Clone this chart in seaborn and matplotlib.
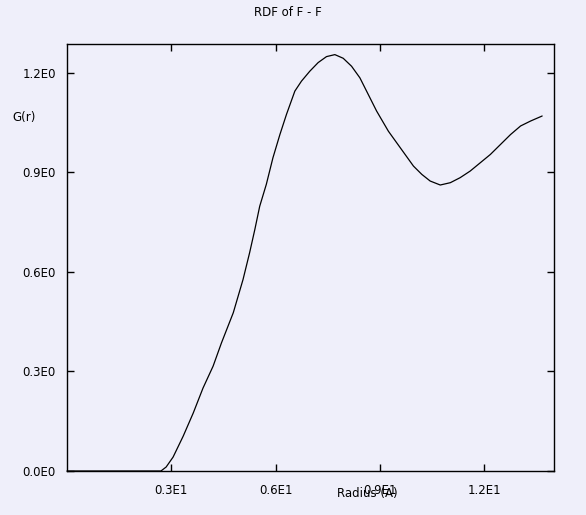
import matplotlib
matplotlib.use("Agg")
import matplotlib.pyplot as plt
import seaborn as sns
import pandas as pd

radius = [0.0, 2.70, 2.85, 3.05, 3.34, 3.63, 3.91, 4.20, 4.44, 4.78, 5.06, 5.25, 5.40, 5.54,
          5.73, 5.92, 6.12, 6.31, 6.55, 6.74, 6.98, 7.22, 7.46, 7.70, 7.94, 8.18, 8.42, 8.66,
          8.90, 9.24, 9.48, 9.72, 9.96, 10.20, 10.44, 10.73, 11.02, 11.30, 11.59, 11.88,
          12.17, 12.46, 12.75, 13.04, 13.33, 13.66]
g_r = [0.0, 0.0, 0.012, 0.042, 0.105, 0.175, 0.250, 0.316, 0.386, 0.477, 0.577, 0.658, 0.728,
       0.798, 0.864, 0.944, 1.014, 1.075, 1.145, 1.175, 1.205, 1.231, 1.249, 1.255, 1.244,
       1.220, 1.185, 1.135, 1.085, 1.024, 0.989, 0.954, 0.919, 0.894, 0.874, 0.862, 0.869,
       0.884, 0.904, 0.929, 0.954, 0.984, 1.014, 1.040, 1.055, 1.070]
x_ticks = [3, 6, 9, 12]
x_tick_labels = ["0.3E1", "0.6E1", "0.9E1", "1.2E1"]
y_ticks = [0.0, 0.3, 0.6, 0.9, 1.2]
y_tick_labels = ["0.0E0", "0.3E0", "0.6E0", "0.9E0", "1.2E0"]
title = "RDF of F - F"
xlabel = "Radius (A)"
ylabel = "G(r)"

df = pd.DataFrame({"r": radius, "g": g_r})

sns.set_style("ticks")
plt.rcParams['font.family'] = ['DejaVu Sans']
plt.rcParams['text.color'] = 'black'
bg = "#EFEFFA"

fig = plt.figure(figsize=(5.86, 5.15), dpi=100, facecolor=bg)
ax = fig.add_axes([67/586, 1-471/515, (554-67)/586, (471-44)/515])
ax.set_facecolor(bg)

sns.lineplot(data=df, x="r", y="g", ax=ax, color="black", linewidth=0.9, clip_on=False)

ax.set_xlim(0, 14.0)
ax.set_ylim(0, 1.287)
ax.set_xticks(x_ticks)
ax.set_xticklabels(x_tick_labels)
ax.set_yticks(y_ticks)
ax.set_yticklabels(y_tick_labels)
ax.set_xlabel("")
ax.set_ylabel("")
ax.tick_params(direction="in", length=5, width=1, top=True, right=True,
               labelsize=8.5, colors="black")
ax.tick_params(axis="x", pad=9)
ax.tick_params(axis="y", pad=8)
for s in ax.spines.values():
    s.set_color("black")
    s.set_linewidth(1.0)

fig.text(288/586, 1-12/515, title, ha="center", va="center", fontsize=8.5, color="black")
fig.text(367/586, 1-494/515, xlabel, ha="center", va="center", fontsize=8.5, color="black")
fig.text(12/586, 1-118/515, ylabel, ha="left", va="center", fontsize=8.5, color="black")

fig.savefig("out.png", dpi=100, facecolor=bg)
